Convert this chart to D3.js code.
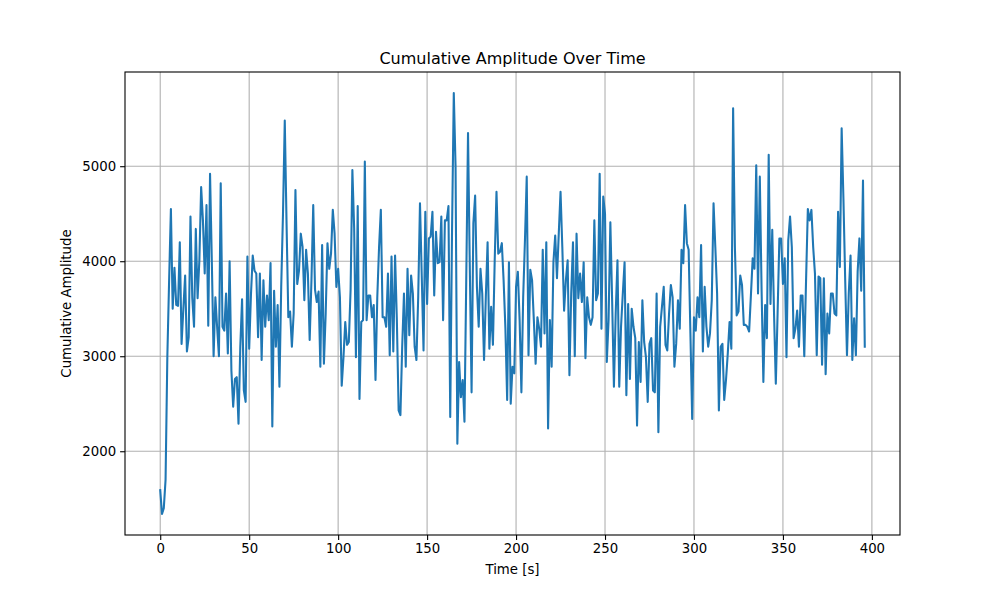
<!DOCTYPE html>
<html>
<head>
<meta charset="utf-8">
<script src="https://cdn.jsdelivr.net/npm/d3@7"></script>
<style>
    body { margin: 0; background: #fff; }
    text { font-family: 'DejaVu Sans', sans-serif; }
</style>
</head>
<body>
<svg id="chart" width="1000" height="600"></svg>
<script>
// amplitude values, one per second starting at t = 0
const amplitude = [
    1590, 1340, 1400, 1700, 3000, 3800, 4550, 3500, 3930, 3540,
    3530, 4200, 3130, 3500, 3850, 3050, 3200, 4470, 3620, 3310,
    4340, 3610, 4010, 4780, 4430, 3870, 4590, 3320, 4920, 4000,
    3000, 3620, 3300, 3000, 4820, 3310, 3270, 3660, 3030, 4000,
    2850, 2470, 2760, 2780, 2290, 3100, 3600, 2640, 2520, 4050,
    3080, 3650, 4060, 3900, 3870, 3200, 3870, 2960, 3800, 3310,
    3640, 3380, 3980, 2260, 3690, 3100, 3540, 2680, 3730, 4500,
    5480, 4400, 3410, 3470, 3100, 3450, 4750, 3760, 3900, 4290,
    4150, 3590, 4120, 3870, 3170, 3800, 4590, 3700, 3570, 3680,
    2890, 4170, 2920, 3450, 4190, 3920, 4080, 4540, 4290, 3730,
    3920, 3620, 2690, 2990, 3360, 3120, 3150, 3700, 4960, 4350,
    2990, 4580, 2550, 3360, 3380, 5050, 3380, 3640, 3640, 3410,
    3540, 2750, 3620, 4150, 4540, 3410, 3410, 3310, 3870, 3010,
    4050, 3050, 4060, 3380, 2430, 2380, 3100, 3660, 2890, 3920,
    3220, 3850, 3660, 3100, 2960, 3620, 4610, 3840, 3060, 4520,
    3550, 4240, 4260, 4520, 3640, 4310, 3980, 3990, 4470, 3380,
    4430, 4430, 4580, 2360, 4300, 5770, 4990, 2080, 2940, 2570,
    2750, 2310, 3800, 5350, 3940, 2620, 4400, 4690, 3730, 3310,
    3920, 3660, 2960, 3620, 4200, 3080, 3520, 3120, 4010, 4730,
    4080, 4100, 4190, 3800, 3300, 2540, 3990, 2500, 2890, 2820,
    3730, 3890, 3380, 2620, 3620, 4220, 4890, 3010, 3910, 3800,
    3380, 2920, 3410, 3290, 3100, 4120, 3240, 4200, 2240, 3380,
    2890, 3990, 4270, 3820, 4290, 4730, 4150, 3480, 3800, 4010,
    2800, 3660, 4200, 3000, 4290, 3610, 3870, 3570, 3990, 2980,
    3620, 3410, 3330, 3410, 4430, 3590, 3660, 4920, 3290, 4680,
    4500, 2940, 3380, 4410, 3590, 2680, 3450, 4010, 2680, 3310,
    3660, 3990, 2590, 3550, 2760, 3500, 3310, 3190, 2270, 3150,
    2730, 3590, 3150, 2990, 2520, 3130, 3190, 2640, 2620, 3660,
    2200, 3310, 3520, 3730, 3120, 3060, 3450, 3750, 3620, 2890,
    3130, 3590, 3290, 4120, 3980, 4590, 4190, 4120, 3240, 2340,
    3410, 3270, 3620, 3410, 4170, 3050, 3730, 3310, 3100, 3240,
    3590, 4610, 4150, 3660, 2430, 3100, 3130, 2540, 2750, 3030,
    3360, 3080, 5610, 4150, 3430, 3470, 3850, 3750, 3330, 3330,
    3310, 3260, 3640, 4030, 3920, 5010, 3660, 4890, 3700, 2730,
    3540, 3190, 5120, 3550, 4330, 3450, 2710, 3450, 4240, 4240,
    3760, 4030, 2990, 4220, 4470, 4150, 3190, 3290, 3480, 3100,
    3640, 3640, 3000, 3800, 4550, 4430, 4540, 4150, 3870, 3010,
    3840, 3820, 2910, 3820, 2810, 3450, 3240, 3660, 3660, 3450,
    3430, 4520, 3940, 5400, 4660, 3800, 3010, 3660, 4060, 2960,
    3400, 3010, 3890, 4240, 3690, 4850, 3100
];
const times = d3.range(amplitude.length);

const xTicks = [0, 50, 100, 150, 200, 250, 300, 350, 400];
const yTicks = [2000, 3000, 4000, 5000];

const width = 1000;
const height = 600;
const margin = {top: 72, right: 100, bottom: 65, left: 125};

const svg = d3.select('#chart');

// matplotlib style 5% padding around the data
const pad = (lo, hi) => [lo - (hi - lo) * 0.05, hi + (hi - lo) * 0.05];

const x = d3.scaleLinear()
    .domain(pad(d3.min(times), d3.max(times)))
    .range([margin.left, width - margin.right]);

const y = d3.scaleLinear()
    .domain(pad(d3.min(amplitude), d3.max(amplitude)))
    .range([height - margin.bottom, margin.top]);

// grid
const grid = svg.append('g').attr('class', 'grid');

grid.selectAll('.vgrid')
    .data(xTicks)
    .enter().append('line')
    .attr('x1', d => x(d))
    .attr('x2', d => x(d))
    .attr('y1', margin.top)
    .attr('y2', height - margin.bottom)
    .attr('stroke', '#b0b0b0')
    .attr('stroke-width', 1.1);

grid.selectAll('.hgrid')
    .data(yTicks)
    .enter().append('line')
    .attr('x1', margin.left)
    .attr('x2', width - margin.right)
    .attr('y1', d => y(d))
    .attr('y2', d => y(d))
    .attr('stroke', '#b0b0b0')
    .attr('stroke-width', 1.1);

// line
const line = d3.line()
    .x((d, i) => x(times[i]))
    .y(d => y(d));

svg.append('path')
    .datum(amplitude)
    .attr('d', line)
    .attr('fill', 'none')
    .attr('stroke', '#1f77b4')
    .attr('stroke-width', 2.08)
    .attr('stroke-linejoin', 'round')
    .attr('stroke-linecap', 'square');

// frame
svg.append('rect')
    .attr('x', margin.left)
    .attr('y', margin.top)
    .attr('width', width - margin.left - margin.right)
    .attr('height', height - margin.top - margin.bottom)
    .attr('fill', 'none')
    .attr('stroke', 'black')
    .attr('stroke-width', 1.1);

// axes
const xAxis = d3.axisBottom(x)
    .tickValues(xTicks)
    .tickSize(4.9)
    .tickPadding(4)
    .tickFormat(d3.format('d'));

const yAxis = d3.axisLeft(y)
    .tickValues(yTicks)
    .tickSize(4.9)
    .tickPadding(4)
    .tickFormat(d3.format('d'));

const gx = svg.append('g')
    .attr('transform', `translate(0, ${height - margin.bottom})`)
    .call(xAxis);

const gy = svg.append('g')
    .attr('transform', `translate(${margin.left}, 0)`)
    .call(yAxis);

[gx, gy].forEach(g => {
    g.select('.domain').remove();
    g.selectAll('.tick line').attr('stroke', 'black').attr('stroke-width', 1.1);
    g.selectAll('.tick text')
        .style('font-family', "'DejaVu Sans', sans-serif")
        .style('font-size', '13.3px')
        .attr('fill', 'black');
});

// labels
svg.append('text')
    .text('Cumulative Amplitude Over Time')
    .attr('x', (margin.left + width - margin.right) / 2)
    .attr('y', margin.top - 8)
    .style('text-anchor', 'middle')
    .style('font-size', '16px')
    .style('fill', 'black');

svg.append('text')
    .text('Time [s]')
    .attr('x', (margin.left + width - margin.right) / 2)
    .attr('y', 574)
    .style('text-anchor', 'middle')
    .style('font-size', '13.3px')
    .style('fill', 'black');

svg.append('text')
    .text('Cumulative Amplitude')
    .attr('transform', `translate(71, ${(margin.top + height - margin.bottom) / 2}) rotate(-90)`)
    .style('text-anchor', 'middle')
    .style('font-size', '13.3px')
    .style('fill', 'black');
</script>
</body>
</html>
